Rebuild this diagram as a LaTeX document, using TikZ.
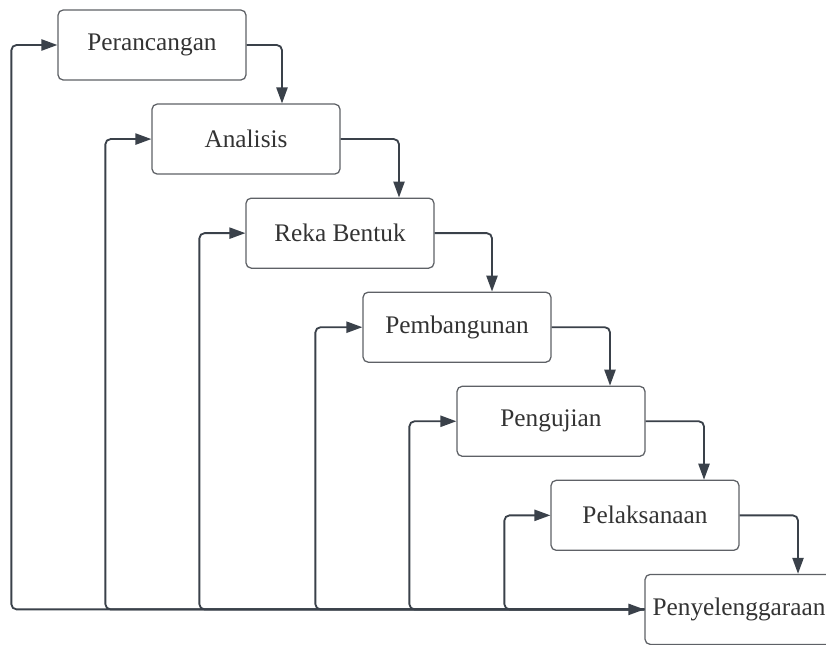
\documentclass[tikz,border=0pt]{standalone}
\usepackage{fontspec}
\setmainfont{Liberation Serif}
\usepackage{tikz}
\usetikzlibrary{positioning,arrows.meta}
\definecolor{linkc}{HTML}{3A414A}
\definecolor{edgec}{HTML}{5E6166}
\definecolor{textc}{HTML}{333333}

\begin{document}
\begin{tikzpicture}[
    >={Triangle[length=4mm,width=2.8mm]},
    stage/.style={draw=edgec, line width=0.9pt, fill=white, minimum width=4.7cm, minimum height=1.75cm, inner sep=2pt, align=center, rounded corners=1.3mm, text=textc, font=\fontsize{18}{22}\selectfont},
    arr/.style={->, line width=1.3pt, draw=linkc, rounded corners=1.3mm},
    back/.style={<-, line width=1.3pt, draw=linkc, rounded corners=1.3mm}
]
    \useasboundingbox (-3.8,1.125) rectangle (16.85,-14.975);
    \clip (-3.8,1.125) rectangle (16.85,-14.975);

    \node[stage] (pr) {Perancangan};
    \node[stage, below=5.7mm of pr, xshift=2.35cm] (an) {Analisis};
    \node[stage, below=5.7mm of an, xshift=2.35cm] (rb) {Reka Bentuk};
    \node[stage, below=5.7mm of rb, xshift=2.925cm] (pb) {Pembangunan};
    \node[stage, below=5.7mm of pb, xshift=2.35cm] (pu) {Pengujian};
    \node[stage, below=5.7mm of pu, xshift=2.35cm] (pl) {Pelaksanaan};
    \node[stage, below=5.7mm of pl, xshift=2.35cm] (py) {Penyelenggaraan};

    % turun ke tahap berikutnya
    \draw[arr] (pr.east) -| ([xshift=0.9cm]an.north);
    \draw[arr] (an.east) -| ([xshift=1.475cm]rb.north);
    \draw[arr] (rb.east) -| ([xshift=0.875cm]pb.north);
    \draw[arr] (pb.east) -| ([xshift=1.475cm]pu.north);
    \draw[arr] (pu.east) -| ([xshift=1.475cm]pl.north);
    \draw[arr] (pl.east) -| ([xshift=1.475cm]py.north);

    % kembali dari garis bawah
    \draw[arr, <->] (pr.west) -- ++(-1.15,0) |- (py.west);
    \draw[back] (an.west) -- ++(-1.15,0) |- (py.west);
    \draw[back] (rb.west) -- ++(-1.15,0) |- (py.west);
    \draw[back] (pb.west) -- ++(-1.175,0) |- (py.west);
    \draw[back] (pu.west) -- ++(-1.175,0) |- (py.west);
    \draw[back] (pl.west) -- ++(-1.15,0) |- (py.west);
\end{tikzpicture}
\end{document}
